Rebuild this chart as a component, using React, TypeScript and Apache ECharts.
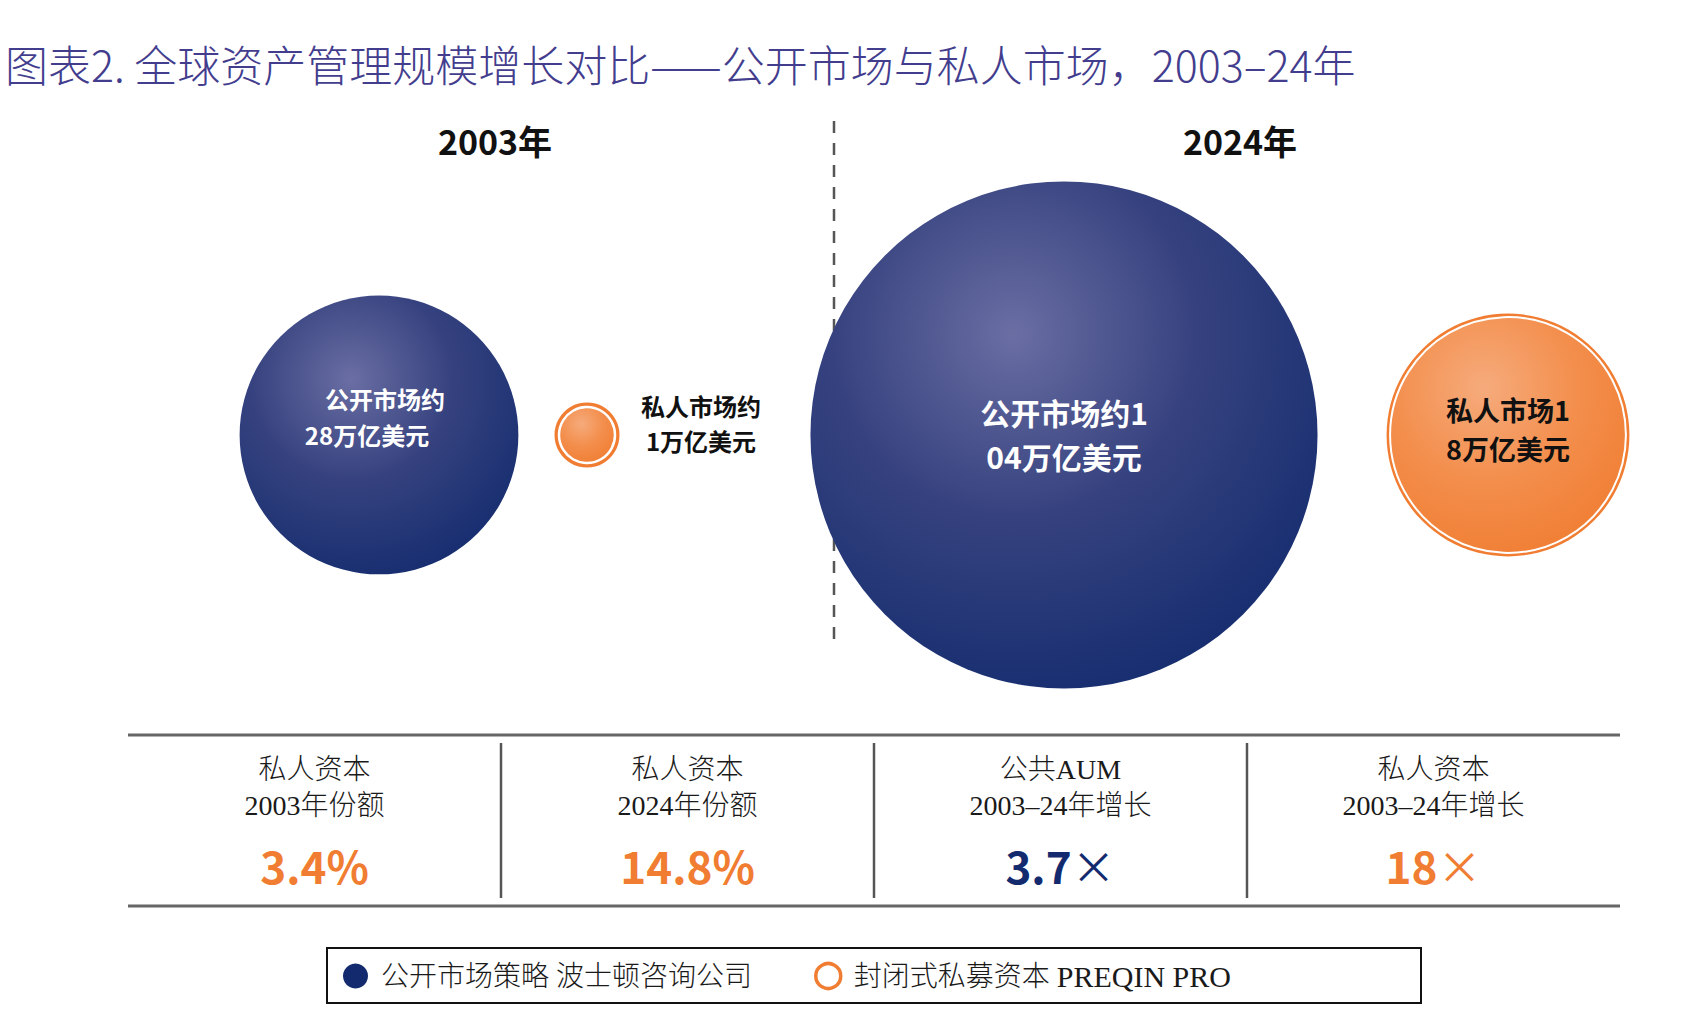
import React, { useEffect, useRef } from "react";
import * as echarts from "echarts";

// AUM in trillions of US dollars
const years = ["2003年", "2024年"];
const marketKinds = ["公开市场", "私人市场"];
const publicAum = [28, 104];
const privateAum = [1, 18];
const publicLabels = [["公开市场约", "28万亿美元"], ["公开市场约1", "04万亿美元"]];
const privateLabels = [["私人市场约", "1万亿美元"], ["私人市场1", "8万亿美元"]];

const seriesNames = ["公开市场策略 波士顿咨询公司", "封闭式私募资本 PREQIN PRO"];
const statHeads = [
  ["私人资本", "2003年份额"],
  ["私人资本", "2024年份额"],
  ["公共AUM", "2003–24年增长"],
  ["私人资本", "2003–24年增长"],
];

const TITLE = "图表2. 全球资产管理规模增长对比——公开市场与私人市场，2003–24年";

const NAVY = "#132b6e";
const ORANGE = "#f07d32";
const TITLE_COLOR = "#433d8e";
const SANS = '"Noto Sans CJK SC", "Noto Sans", sans-serif';
const SERIF_MIX = '"Liberation Serif", "Noto Sans CJK SC", serif';

// bubble diameter from AUM (the private bubbles include their outer ring)
const SIZE_EXP = 0.456;
const publicDiameter = (v: number) => 61 * Math.pow(v, SIZE_EXP);
const privateDiameter = (v: number) => 65 * Math.pow(v, SIZE_EXP);

const share = (p: number, q: number) => ((p / (p + q)) * 100).toFixed(1) + "%";
const growth = (a: number, b: number) => {
  const g = b / a;
  return Number.isInteger(g) ? String(g) : g.toFixed(1);
};

const statValues = [
  { text: share(privateAum[0], publicAum[0]), suffix: "", color: ORANGE },
  { text: share(privateAum[1], publicAum[1]), suffix: "", color: ORANGE },
  { text: growth(publicAum[0], publicAum[1]), suffix: "×", color: NAVY },
  { text: growth(privateAum[0], privateAum[1]), suffix: "×", color: ORANGE },
];

const navyFill = new echarts.graphic.RadialGradient(0.4, 0.3, 0.8, [
  { offset: 0, color: "#6a6ea3" },
  { offset: 0.45, color: "#36427f" },
  { offset: 1, color: "#112a6d" },
]);
const orangeFill = new echarts.graphic.RadialGradient(0.4, 0.3, 0.8, [
  { offset: 0, color: "#f6ab7c" },
  { offset: 0.5, color: "#f38e4c" },
  { offset: 1, color: "#f07c30" },
]);

export default function App() {
  const ref = useRef<HTMLDivElement>(null);

  useEffect(() => {
    if (!ref.current) return;
    const chart = echarts.init(ref.current, null, { renderer: "svg" });

    // one grid per year; the two bubbles of a year sit on a 2-point category axis
    const grids = [
      { left: 379, width: 208, top: 335, height: 200 },
      { left: 1064, width: 444, top: 335, height: 200 },
    ];
    const xAxes = grids.map((_, i) => ({
      type: "category" as const,
      gridIndex: i,
      data: marketKinds,
      boundaryGap: false,
      show: false,
    }));
    const yAxes = grids.map((_, i) => ({
      type: "value" as const,
      gridIndex: i,
      min: -1,
      max: 1,
      show: false,
    }));

    const series: any[] = [];
    years.forEach((_, i) => {
      const pl = publicLabels[i];
      const vl = privateLabels[i];
      // orange outer ring behind the private bubble
      series.push({
        type: "scatter",
        xAxisIndex: i,
        yAxisIndex: i,
        silent: true,
        z: 1,
        data: [[marketKinds[1], 0, privateAum[i]]],
        symbolSize: (d: number[]) => privateDiameter(d[2]),
        itemStyle: { color: ORANGE, opacity: 1 },
      });
      series.push({
        type: "scatter",
        name: seriesNames[1],
        xAxisIndex: i,
        yAxisIndex: i,
        z: 2,
        data: [[marketKinds[1], 0, privateAum[i]]],
        symbolSize: (d: number[]) => privateDiameter(d[2]) - (i === 0 ? 9 : 7),
        itemStyle: {
          color: orangeFill,
          borderColor: "#ffffff",
          borderWidth: i === 0 ? 2.5 : 2,
          opacity: 1,
        },
        label: {
          show: true,
          position: "inside",
          offset: i === 0 ? [114, -12] : [0, -6],
          formatter: `{a|${vl[0]}}\n{a|${vl[1]}}`,
          rich: {
            a: {
              color: "#111111",
              fontFamily: SANS,
              fontWeight: "bold",
              fontSize: i === 0 ? 24 : 27,
              lineHeight: i === 0 ? 35 : 39,
              align: "center",
            },
          },
        },
      });
      series.push({
        type: "scatter",
        name: seriesNames[0],
        xAxisIndex: i,
        yAxisIndex: i,
        z: 2,
        data: [[marketKinds[0], 0, publicAum[i]]],
        symbolSize: (d: number[]) => publicDiameter(d[2]),
        itemStyle: { color: navyFill, opacity: 1 },
        label: {
          show: true,
          position: "inside",
          offset: i === 0 ? [-12, -19] : [0, -1],
          formatter: `{a|${pl[0]}}\n{b|${pl[1]}}`,
          rich: {
            a: {
              color: "#ffffff",
              fontFamily: SANS,
              fontWeight: "bold",
              fontSize: i === 0 ? 24 : 30,
              lineHeight: i === 0 ? 36 : 44,
              padding: i === 0 ? [0, 0, 0, 36] : 0,
            },
            b: {
              color: "#ffffff",
              fontFamily: SANS,
              fontWeight: "bold",
              fontSize: i === 0 ? 24 : 30,
              lineHeight: i === 0 ? 36 : 44,
            },
          },
        },
      });
    });

    // summary table below the bubbles
    const tableLeft = 128;
    const tableRight = 1620;
    const colW = (tableRight - tableLeft) / statHeads.length;
    const table: any[] = [
      {
        type: "line",
        shape: { x1: tableLeft, y1: 735, x2: tableRight, y2: 735 },
        style: { stroke: "#666666", lineWidth: 3 },
      },
      {
        type: "line",
        shape: { x1: tableLeft, y1: 906, x2: tableRight, y2: 906 },
        style: { stroke: "#666666", lineWidth: 3 },
      },
    ];
    for (let c = 1; c < statHeads.length; c++) {
      const x = Math.round(tableLeft + colW * c);
      table.push({
        type: "line",
        shape: { x1: x, y1: 743, x2: x, y2: 898 },
        style: { stroke: "#555555", lineWidth: 2.5 },
      });
    }
    statHeads.forEach((h, c) => {
      const cx = tableLeft + colW * (c + 0.5);
      h.forEach((line, k) => {
        table.push({
          type: "text",
          x: cx,
          y: 769 + k * 36,
          style: {
            text: line,
            fill: "#1a1a1a",
            font: `300 28px ${SERIF_MIX}`,
            align: "center",
            verticalAlign: "middle",
          },
        });
      });
      const v = statValues[c];
      table.push({
        type: "text",
        x: cx,
        y: 865,
        style: {
          text: v.suffix ? `{v|${v.text}}{s|${v.suffix}}` : `{v|${v.text}}`,
          align: "center",
          verticalAlign: "middle",
          rich: {
            v: { fill: v.color, font: `bold 44px ${SANS}` },
            s: { fill: v.color, font: `400 44px ${SANS}` },
          },
        },
      });
    });

    chart.setOption({
      animation: false,
      backgroundColor: "#ffffff",
      grid: grids,
      xAxis: xAxes,
      yAxis: yAxes,
      series,
      legend: {
        left: 343,
        top: 961,
        orient: "horizontal",
        padding: 0,
        itemGap: 62,
        itemWidth: 25,
        itemHeight: 25,
        selectedMode: false,
        // Latin part of a legend entry is set a little larger than the CJK part
        formatter: (name: string) => name.replace(/([A-Z][A-Z ]*)$/, "{l|$1}"),
        textStyle: {
          fontFamily: SERIF_MIX,
          fontSize: 28,
          fontWeight: 300,
          color: "#1a1a1a",
          padding: [0, 0, 0, 8],
          verticalAlign: "middle",
          rich: {
            l: {
              fontFamily: SERIF_MIX,
              fontSize: 30,
              fontWeight: 300,
              color: "#1a1a1a",
            },
          },
        },
        data: [
          { name: seriesNames[0], icon: "circle", itemStyle: { color: NAVY, borderWidth: 0 } },
          {
            name: seriesNames[1],
            icon: "circle",
            itemStyle: { color: "#ffffff", borderColor: ORANGE, borderWidth: 3.5 },
          },
        ],
      },
      graphic: [
        {
          type: "text",
          x: 5,
          y: 63,
          style: {
            text: TITLE,
            fill: TITLE_COLOR,
            font: `300 43px ${SANS}`,
            verticalAlign: "middle",
          },
        },
        {
          type: "text",
          x: 495,
          y: 140,
          style: {
            text: years[0],
            fill: "#111111",
            font: `bold 34px ${SANS}`,
            align: "center",
            verticalAlign: "middle",
          },
        },
        {
          type: "text",
          x: 1240,
          y: 140,
          style: {
            text: years[1],
            fill: "#111111",
            font: `bold 34px ${SANS}`,
            align: "center",
            verticalAlign: "middle",
          },
        },
        {
          type: "line",
          z: -1,
          shape: { x1: 834, y1: 121, x2: 834, y2: 642 },
          style: { stroke: "#555555", lineWidth: 2.5, lineDash: [12, 10] },
        },
        // legend frame
        {
          type: "rect",
          shape: { x: 327, y: 948, width: 1094, height: 55 },
          style: { fill: "none", stroke: "#111111", lineWidth: 2 },
        },
        ...table,
      ],
    });

    return () => chart.dispose();
  }, []);

  return <div ref={ref} style={{ width: 1701, height: 1026, margin: -8 }} />;
}
